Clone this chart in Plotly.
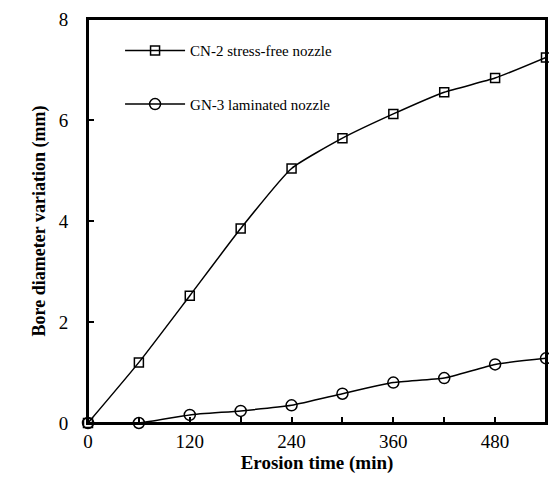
import plotly.graph_objects as go

time_min = [0, 60, 120, 180, 240, 300, 360, 420, 480, 540]
cn2_stress_free = [0.0, 1.2, 2.52, 3.85, 5.04, 5.64, 6.12, 6.55, 6.83, 7.24]
gn3_laminated = [0.0, 0.0, 0.16, 0.24, 0.35, 0.58, 0.8, 0.89, 1.16, 1.28]
x_tickvals = [0, 60, 120, 180, 240, 300, 360, 420, 480, 540]
x_ticktext = ["0", "", "120", "", "240", "", "360", "", "480", ""]
y_tickvals = [0, 2, 4, 6, 8]

FONT = "Liberation Serif, Times New Roman, serif"

fig = go.Figure()
fig.add_trace(go.Scatter(
    x=time_min, y=cn2_stress_free, name="CN-2 stress-free nozzle",
    mode="lines+markers", line=dict(color="black", width=1.5, shape="spline", smoothing=0.5),
    marker=dict(symbol="square-open", size=9, color="black", line=dict(width=1.5)),
    cliponaxis=False, legendgroup="a"))
fig.add_trace(go.Scatter(
    x=time_min, y=gn3_laminated, name="GN-3 laminated nozzle",
    mode="lines+markers", line=dict(color="black", width=1.5, shape="spline", smoothing=0.5),
    marker=dict(symbol="circle-open", size=11, color="black", line=dict(width=1.5)),
    cliponaxis=False, legendgroup="b"))

fig.update_layout(
    width=549, height=479,
    margin=dict(l=88, r=3, t=19, b=56, autoexpand=False),
    paper_bgcolor="white", plot_bgcolor="white",
    font=dict(family=FONT, color="black", size=19),
    showlegend=True,
    legend=dict(x=0.07, y=0.962, xanchor="left", yanchor="top",
                bgcolor="rgba(0,0,0,0)", font=dict(size=15, family=FONT),
                tracegroupgap=31, itemwidth=60, traceorder="grouped"),
    xaxis=dict(range=[0, 540], tickvals=x_tickvals, ticktext=x_ticktext,
               ticks="inside", ticklen=6, tickwidth=1.5, tickcolor="black",
               showline=True, linecolor="black", linewidth=2, mirror=True,
               showgrid=False, zeroline=False,
               tickfont=dict(size=19, family=FONT),
               title=dict(text="<b>Erosion time (min)</b>", font=dict(size=19, family=FONT), standoff=4)),
    yaxis=dict(range=[0, 8], tickvals=y_tickvals, ticks="inside", ticklen=6,
               tickwidth=1.5, tickcolor="black",
               showline=True, linecolor="black", linewidth=2, mirror=True,
               showgrid=False, zeroline=False,
               tickfont=dict(size=19, family=FONT), ticklabelstandoff=14,
               title=dict(text="<b>Bore diameter variation (mm)</b>", font=dict(size=18, family=FONT), standoff=8)),
)
# plot frame
fig.add_shape(type="rect", xref="paper", yref="paper", x0=0, x1=1, y0=0, y1=1,
              line=dict(color="black", width=2), fillcolor="rgba(0,0,0,0)", layer="above")

fig.write_html("out.html", config={"displayModeBar": False},
               post_script="document.body.style.margin='0';document.body.style.overflow='hidden';")
